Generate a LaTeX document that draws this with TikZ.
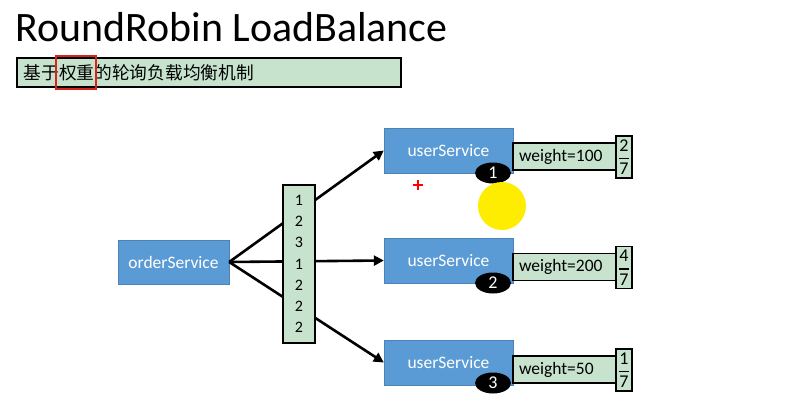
\documentclass[tikz,border=0pt]{standalone}
\usepackage{amsmath}
\usepackage{fontspec}
\setmainfont{Carlito}
\newfontfamily\cjkfont{Noto Sans CJK SC}
\usepackage{xcolor}
\definecolor{LBblue}{HTML}{5B9BD5}
\definecolor{LBgreen}{HTML}{C7E3CE}
\definecolor{LBred}{HTML}{D9241C}
\usetikzlibrary{arrows.meta, positioning, shapes.geometric}

\newcommand{\wfrac}[2]{$\genfrac{}{}{1.3pt}{0}{\text{#1}}{\text{#2}}$}

\begin{document}
\begin{tikzpicture}[x=1pt, y=-1pt]
  \tikzset{
  svcbox/.style={draw=LBblue!85!black, fill=LBblue, text=white, inner sep=0,
    minimum width=129pt, minimum height=45pt, font=\fontsize{17.5}{20}\selectfont},
  greenbox/.style={draw=black, line width=1.6pt, fill=LBgreen, inner sep=0},
  weightbox/.style={greenbox, text width=91pt, inner xsep=6pt, align=left,
    minimum height=27pt, font=\fontsize{17.5}{20}\selectfont},
  fracbox/.style={greenbox, minimum width=16pt, minimum height=42pt,
    font=\fontsize{18}{18}\selectfont},
  badge/.style={ellipse, fill=black, text=white, inner sep=0,
    minimum width=36pt, minimum height=21pt, font=\fontsize{18}{18}\selectfont},
  callarrow/.style={-{Triangle[length=10pt, width=10pt]}, line width=2.6pt},
}
% ============================================================
%  RoundRobin LoadBalance: weighted round robin dispatch
% ============================================================
\useasboundingbox[fill=white] (0,0) rectangle (796,404);

% ── Title and subtitle ──────────────────────────────────────
\node[anchor=base west, inner sep=0, font=\fontsize{41.9}{48}\selectfont]
  (title) at (15.5,42) {RoundRobin LoadBalance};
\node[greenbox, anchor=north west, text width=370pt, minimum height=29pt,
      inner xsep=7pt, align=left, font=\cjkfont\fontsize{17.7}{20}\selectfont]
  (subtitle) at (16,57) {基于权重的轮询负载均衡机制};
% highlight on the weight characters
\node[draw=LBred, line width=2pt, anchor=north west, inner sep=0,
      minimum width=40pt, minimum height=33pt] (mark) at (55,55) {};

% ── Services ────────────────────────────────────────────────
\node[svcbox, minimum width=111pt, minimum height=44pt] (order) at (173.5,262) {orderService};
\node[svcbox] (svc1) at (448.5,150.5) {userService};
\node[svcbox] (svc2) at (448.5,260.5) {userService};
\node[svcbox] (svc3) at (448.5,362.5) {userService};

% ── Calls (the queue lies on top of them) ───────────────────
\draw[callarrow] (order.east) -- (svc1.west);
\draw[callarrow] (order.east) -- (svc2.west);
\draw[callarrow] (order.east) -- (svc3.west);

% ── Dispatch queue ──────────────────────────────────────────
\node[greenbox, minimum width=32pt, minimum height=158pt, align=center,
      font=\fontsize{16}{21.2}\selectfont]
  (queue) at (299,264) {1\\2\\3\\1\\2\\2\\2};

% ── Weights ─────────────────────────────────────────────────
\node[weightbox] (w1) at (564.5,156.5) {weight=100};
\node[weightbox] (w2) at (564.5,267) {weight=200};
\node[weightbox] (w3) at (564.5,369.5) {weight=50};

\node[fracbox] (f1) at (624,157) {\wfrac{2}{7}};
\node[fracbox] (f2) at (624,267.5) {\wfrac{4}{7}};
\node[fracbox] (f3) at (624,370) {\wfrac{1}{7}};

\node[badge] (b1) at (493,173) {1};
\node[badge] (b2) at (493,283) {2};
\node[badge] (b3) at (493,383) {3};

% ── Pointer marks ───────────────────────────────────────────
\fill[yellow!95!orange] (502,206) circle (24);
\draw[red, line width=1.5pt] (413,185) -- (423,185) (418,180) -- (418,190);
\end{tikzpicture}
\end{document}
